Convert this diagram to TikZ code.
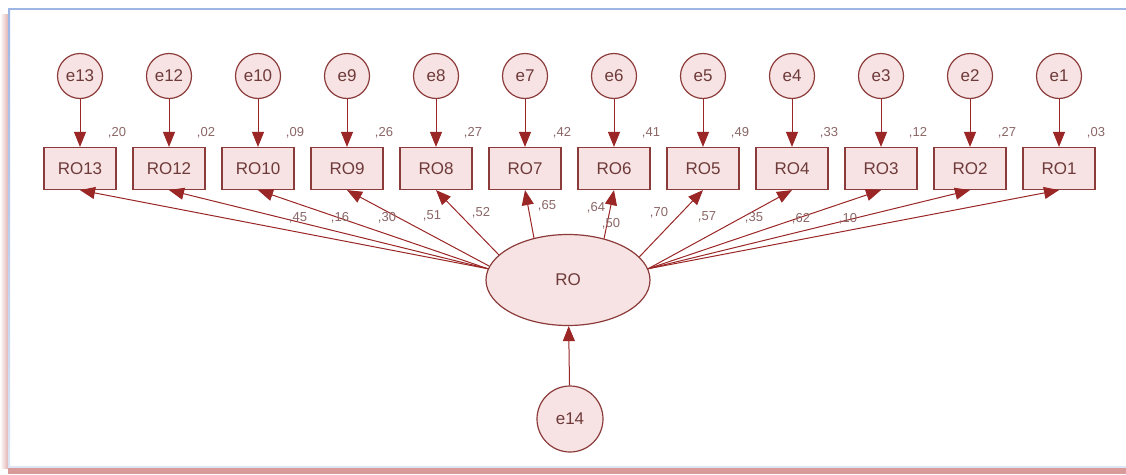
\documentclass[tikz,border=0pt]{standalone}
\usepackage{fontspec}
\setmainfont{Liberation Sans}
\usetikzlibrary{arrows.meta,shapes.geometric}
\definecolor{edgec}{HTML}{8C3B3B}
\definecolor{arrc}{HTML}{9A2626}
\definecolor{fillp}{HTML}{F7E3E3}
\definecolor{txtc}{HTML}{6E3A3A}
\definecolor{lblc}{HTML}{8A6666}
\definecolor{frameblue}{HTML}{9DB6E6}
\definecolor{paleblue}{HTML}{DDE6F5}
\definecolor{bandc}{HTML}{D99A9A}
\begin{document}
\begin{tikzpicture}[x=1pt,y=-1pt,
  obs/.style={draw=edgec, fill=fillp, line width=1.2pt, minimum width=72pt,
    minimum height=42pt, inner sep=0pt, text=txtc, font=\fontsize{17}{17}\selectfont},
  err/.style={circle, draw=edgec, fill=fillp, line width=1.2pt, minimum size=45pt,
    inner sep=0pt, text=txtc, font=\fontsize{17}{17}\selectfont},
  lat/.style={ellipse, draw=edgec, fill=fillp, line width=1.2pt, minimum width=164pt,
    minimum height=91pt, inner sep=0pt, text=txtc, font=\fontsize{17}{17}\selectfont},
  path/.style={draw=arrc, line width=1pt, -{Triangle[length=15pt,width=12pt]}},
  num/.style={inner sep=0pt, text=lblc, font=\fontsize{13}{13}\selectfont}]
\useasboundingbox (0,0) rectangle (1126,474);

% window frame
\shade[left color=white, right color=bandc!75] (0,14) rectangle (8,468);
\draw[frameblue, line width=2pt] (9,9) -- (1126,9);
\shade[top color=frameblue, bottom color=paleblue] (8,8) rectangle (10,467);
\fill[paleblue] (8,465.5) rectangle (1126,468);
\fill[bandc] (8,468) rectangle (1126,474);

% latent variable and its disturbance
\node[lat] (RO) at (568,280) {RO};
\node[err, minimum size=66pt] (e14) at (570,419) {e14};
\draw[path] (e14) -- (RO);

% indicators with their error terms; \a is where the loading path leaves RO
\foreach \n/\r/\a [count=\k from 0, evaluate=\k as \xx using 80+89*\k] in
  {13/20/172,12/02/172,10/09/172,9/26/170,8/27/160,7/42/129,
   6/41/49,5/49/18,4/33/8,3/12/8,2/27/8,1/03/8} {
  \node[err] (e\n) at (\xx,76) {e\n};
  \node[obs] (R\n) at (\xx,168.5) {RO\n};
  \node[num] (v\n) at (\xx+37,133) {,\r};
  \draw[path] (e\n) -- (R\n);
  \draw[path] (RO.\a) -- (R\n.south);
}

% loadings
\node[num] (l1) at (298,218) {,45};
\node[num] (l2) at (340,218) {,16};
\node[num] (l3) at (387,218) {,30};
\node[num] (l4) at (432,216) {,51};
\node[num] (l5) at (481,213) {,52};
\node[num] (l6) at (547,206) {,65};
\node[num] (l7) at (596,208) {,64};
\node[num] (l8) at (611,224) {,50};
\node[num] (l9) at (659,213) {,70};
\node[num] (l10) at (707,217) {,57};
\node[num] (l11) at (754,218) {,35};
\node[num] (l12) at (801,219) {,62};
\node[num] (l13) at (848,219) {,10};
\end{tikzpicture}
\end{document}
